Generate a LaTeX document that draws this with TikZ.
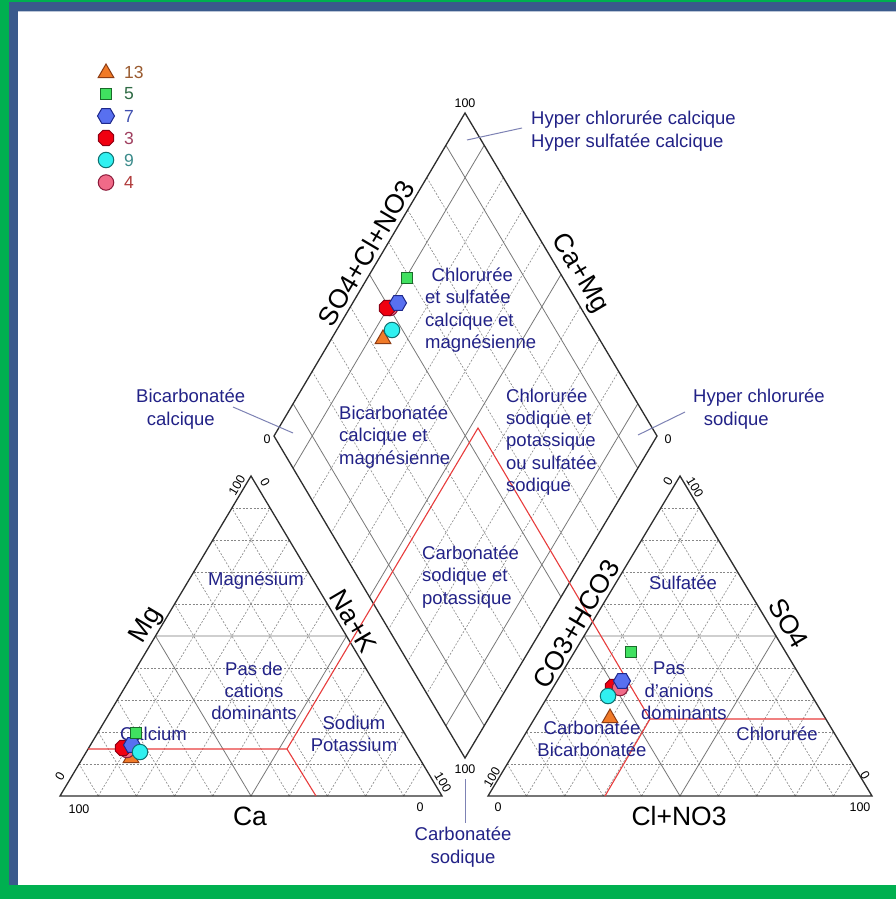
\documentclass[tikz,border=0pt]{standalone}
\usepackage{fontspec}
\setmainfont{Liberation Sans}
\usetikzlibrary{shapes.geometric,calc}
\definecolor{bggreen}{RGB}{0,176,80}
\definecolor{bgblue}{RGB}{58,90,140}
\definecolor{lbl}{RGB}{34,34,135}
\definecolor{leader}{RGB}{125,130,180}
\definecolor{redline}{RGB}{232,60,60}
\definecolor{gridd}{RGB}{135,135,135}
\definecolor{grids}{RGB}{120,120,120}
\definecolor{edgec}{RGB}{45,45,45}
\definecolor{triF}{RGB}{240,122,40}\definecolor{triD}{RGB}{140,60,20}
\definecolor{sqF}{RGB}{64,224,96}\definecolor{sqD}{RGB}{26,106,42}
\definecolor{hexF}{RGB}{88,112,240}\definecolor{hexD}{RGB}{30,40,140}
\definecolor{octF}{RGB}{240,0,16}\definecolor{octD}{RGB}{140,0,20}
\definecolor{cyF}{RGB}{48,240,240}\definecolor{cyD}{RGB}{16,112,112}
\definecolor{pkF}{RGB}{240,106,136}\definecolor{pkD}{RGB}{140,26,58}
\definecolor{legA}{RGB}{154,91,48}\definecolor{legB}{RGB}{47,107,69}
\definecolor{legC}{RGB}{64,80,176}\definecolor{legD}{RGB}{160,64,96}
\definecolor{legE}{RGB}{60,140,140}\definecolor{legF}{RGB}{176,58,58}
\tikzset{
 edgeline/.style={draw=edgec,line width=1.3pt,line join=miter},
 dgrid/.style={draw=gridd,line width=0.6pt,dash pattern=on 2pt off 1.6pt},
 sgrid/.style={draw=grids,line width=0.8pt},
 redl/.style={draw=redline,line width=1.1pt},
 lead/.style={draw=leader,line width=1pt},
 region/.style={text=lbl,font=\fontsize{18.5}{22.3}\selectfont,inner sep=0pt},
 axislbl/.style={font=\fontsize{26.5}{30}\selectfont,inner sep=0pt,text height=19pt,text depth=0pt},
 ticklbl/.style={font=\fontsize{12.5}{14}\selectfont,inner sep=0pt},
 leglbl/.style={font=\fontsize{17.5}{20}\selectfont,inner sep=0pt,anchor=west},
 mk/.style={inner sep=0pt,line width=1pt},
 mtri/.style={mk,regular polygon,regular polygon sides=3,minimum size=18pt,fill=triF,draw=triD},
 msq/.style={mk,rectangle,minimum size=11.5pt,fill=sqF,draw=sqD},
 mhex/.style={mk,regular polygon,regular polygon sides=6,minimum size=17pt,fill=hexF,draw=hexD},
 moct/.style={mk,regular polygon,regular polygon sides=8,minimum size=16.5pt,fill=octF,draw=octD},
 mcy/.style={mk,circle,minimum size=15.5pt,fill=cyF,draw=cyD},
 mpk/.style={mk,circle,minimum size=15.5pt,fill=pkF,draw=pkD},
}
\newcommand\pipertri[3]{%
 \foreach \k in {0.1,0.2,0.3,0.4,0.6,0.7,0.8,0.9}{
   \draw[dgrid] ($(#1)!\k!(#3)$) -- ($(#2)!\k!(#3)$);
   \draw[dgrid] ($(#1)!\k!(#2)$) -- ($(#3)!\k!(#2)$);
   \draw[dgrid] ($(#1)!\k!(#2)$) -- ($(#1)!\k!(#3)$);
 }
 \draw[sgrid] ($(#1)!0.5!(#3)$) -- ($(#2)!0.5!(#3)$) -- ($(#1)!0.5!(#2)$) -- cycle;
 \draw[edgeline] (#1) -- (#2) -- (#3) -- cycle;
}
\begin{document}
\begin{tikzpicture}[x=1pt,y=-1pt]
\useasboundingbox (0,0) rectangle (896,899);
\fill[bggreen] (0,0) rectangle (896,899);
\fill[bgblue] (9,2) rectangle (896,885);
\fill[white] (18,11) rectangle (896,885);
\draw[color=bgblue!35,line width=1pt] (18,11.5) -- (896,11.5);

% vertices
\coordinate (LA) at (60,796); \coordinate (LB) at (442,796); \coordinate (LC) at (251,476);
\coordinate (RA) at (488,796); \coordinate (RB) at (872,796); \coordinate (RC) at (680,476);
\coordinate (DT) at (465,113); \coordinate (DL) at (274,436); \coordinate (DR) at (657,436); \coordinate (DB) at (465,758);

% diamond grid
\foreach \k in {0.2,0.3,0.4,0.6,0.7,0.8}{
  \draw[dgrid] ($(DT)!\k!(DL)$) -- ($(DR)!\k!(DB)$);
  \draw[dgrid] ($(DT)!\k!(DR)$) -- ($(DL)!\k!(DB)$);
}
\foreach \k in {0.1,0.5,0.9}{
  \draw[sgrid] ($(DT)!\k!(DL)$) -- ($(DR)!\k!(DB)$);
  \draw[sgrid] ($(DT)!\k!(DR)$) -- ($(DL)!\k!(DB)$);
}
\draw[edgeline] (DT) -- (DR) -- (DB) -- (DL) -- cycle;

% triangles
\pipertri{LA}{LB}{LC}
\pipertri{RA}{RB}{RC}

% red classification lines
\coordinate (r1) at (88,749); \coordinate (r2) at (287,749); \coordinate (r3) at (316,796);
\coordinate (r4) at (478,428); \coordinate (r5) at (650,719); \coordinate (r6) at (825,719);
\coordinate (r7) at (605,796);
\draw[redl] (r1) -- (r2) -- (r3);
\draw[redl] (r2) -- (r4) -- (r5) -- (r6);
\draw[redl] (r5) -- (r7);

% leader lines
\coordinate (l1a) at (467,140); \coordinate (l1b) at (522,128);
\coordinate (l2a) at (233,407); \coordinate (l2b) at (293,433);
\coordinate (l3a) at (685,412); \coordinate (l3b) at (638,435);
\coordinate (l4a) at (465,779); \coordinate (l4b) at (465,823);
\draw[lead] (l1a) -- (l1b);
\draw[lead] (l2a) -- (l2b);
\draw[lead] (l3a) -- (l3b);
\draw[lead] (l4a) -- (l4b);

% region labels
\node[region,align=left,anchor=west] (hypcc) at (531,131) {Hyper chlorurée calcique\\Hyper sulfatée calcique};
\node[region,align=left,anchor=west] (csm) at (425,310) {\hspace{6.5pt}Chlorurée\\et sulfatée\\calcique et\\magnésienne};
\node[region,align=left,anchor=west] (bcm) at (339,437) {Bicarbonatée\\calcique et\\magnésienne};
\node[region,align=left,anchor=west] (cspo) at (506,442) {Chlorurée\\sodique et\\potassique\\ou sulfatée\\sodique};
\node[region,align=left,anchor=west] (csp) at (422,577) {Carbonatée\\sodique et\\potassique};
\node[region,align=left,anchor=west] (bc) at (136,409) {Bicarbonatée\\\hspace{10.7pt}calcique};
\node[region,align=left,anchor=west] (hcs) at (693,409) {Hyper chlorurée\\\hspace{10.7pt}sodique};
\node[region,align=center] (cs) at (463,847) {Carbonatée\\sodique};
\node[region] (mgn) at (256,581) {Magnésium};
\node[region,align=center] (pcd) at (254,691) {Pas de\\cations\\dominants};
\node[region] (calc) at (153.5,733.5) {Calcium};
\node[region,align=center] (sodp) at (354,734) {Sodium\\Potassium};
\node[region] (sulf) at (683,583) {Sulfatée};
\node[region,align=left,anchor=west] (pad) at (641,691) {\hspace{12pt}Pas\\\hspace{3.3pt}d'anions\\dominants};
\node[region,align=center] (cbb) at (592,739) {Carbonatée\\Bicarbonatée};
\node[region] (chl) at (777,733.5) {Chlorurée};

% axis labels
\node[axislbl,rotate=59.4] (axA) at (366,253) {SO4+Cl+NO3};
\node[axislbl,rotate=-59.4] (axB) at (582,272) {Ca+Mg};
\node[axislbl,rotate=59.4] (axC) at (144,624) {Mg};
\node[axislbl,rotate=-59.4] (axD) at (354,621) {Na+K};
\node[axislbl] (axE) at (250,816) {Ca};
\node[axislbl] (axF) at (679,816) {Cl+NO3};
\node[axislbl,rotate=59.4] (axG) at (576,624) {CO3+HCO3};
\node[axislbl,rotate=-59.4] (axH) at (789,623) {SO4};

% tick labels
\node[ticklbl] (t1) at (465,103) {100};
\node[ticklbl] (t2) at (267,439) {0};
\node[ticklbl] (t3) at (668,439) {0};
\node[ticklbl] (t4) at (465,769) {100};
\node[ticklbl,rotate=59.4] (t5) at (237,485) {100};
\node[ticklbl,rotate=-59.4] (t6) at (265,482) {0};
\node[ticklbl,rotate=59.4] (t7) at (60,776) {0};
\node[ticklbl] (t8) at (79,809) {100};
\node[ticklbl] (t9) at (420,807) {0};
\node[ticklbl,rotate=-59.4] (t10) at (443,782) {100};
\node[ticklbl,rotate=59.4] (t11) at (668,481) {0};
\node[ticklbl,rotate=-59.4] (t12) at (695,487) {100};
\node[ticklbl,rotate=59.4] (t13) at (492,777) {100};
\node[ticklbl] (t14) at (498,807) {0};
\node[ticklbl] (t15) at (860,807) {100};
\node[ticklbl,rotate=-59.4] (t16) at (865,775) {0};

% legend
\node[mtri] (g1) at (106,73) {};
\node[leglbl,text=legA] (g1t) at (124,72) {13};
\node[msq] (g2) at (106,94) {};
\node[leglbl,text=legB] (g2t) at (124,94) {5};
\node[mhex] (g3) at (106,116) {};
\node[leglbl,text=legC] (g3t) at (124,116) {7};
\node[moct] (g4) at (106,138) {};
\node[leglbl,text=legD] (g4t) at (124,138) {3};
\node[mcy] (g5) at (106,160) {};
\node[leglbl,text=legE] (g5t) at (124,160) {9};
\node[mpk] (g6) at (106,182.5) {};
\node[leglbl,text=legF] (g6t) at (124,182.5) {4};

% data: diamond
\node[mpk] (dp4) at (390,308) {};
\node[mtri] (dp13) at (383,339) {};
\node[moct] (dp3) at (387,308) {};
\node[mhex] (dp7) at (398,303) {};
\node[mcy] (dp9) at (392,330) {};
\node[msq] (dp5) at (407,278) {};
% data: cations
\node[mtri] (cp13) at (131,758) {};
\node[mpk] (cp4) at (127,750) {};
\node[moct] (cp3) at (123,748) {};
\node[mhex] (cp7) at (132,745) {};
\node[mcy] (cp9) at (140,752) {};
\node[msq] (cp5) at (136,733) {};
% data: anions
\node[mtri] (ap13) at (610,718) {};
\node[moct] (ap3) at (613,687) {};
\node[mpk] (ap4) at (620,688) {};
\node[mhex] (ap7) at (622,681) {};
\node[mcy] (ap9) at (608,696) {};
\node[msq] (ap5) at (631,652) {};
\end{tikzpicture}
\end{document}
